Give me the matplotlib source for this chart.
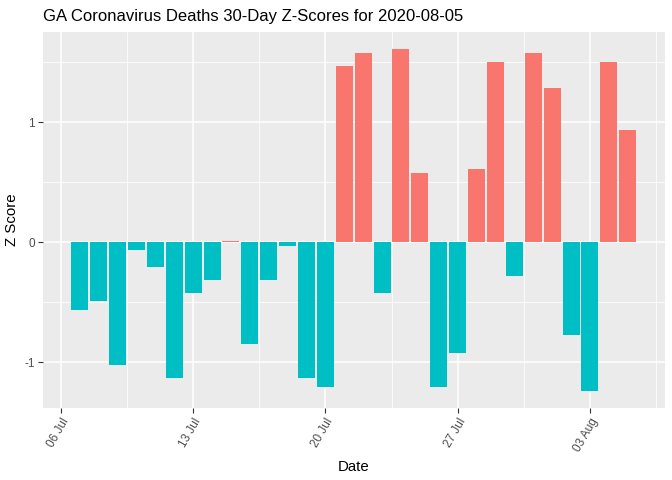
import matplotlib
matplotlib.use("Agg")
import matplotlib.pyplot as plt
import matplotlib.dates as mdates
import numpy as np
import datetime as dt

plt.rcParams['font.family'] = ['Liberation Sans', 'DejaVu Sans']

dates = [dt.date(2020, 7, 7) + dt.timedelta(days=i) for i in range(30)]
zscores = [-0.565, -0.49, -1.02, -0.066, -0.21, -1.13, -0.42, -0.316, 0.01, -0.848,
           -0.316, -0.033, -1.13, -1.205, 1.467, 1.575, -0.42, 1.608, 0.575, -1.205,
           -0.922, 0.608, 1.50, -0.283, 1.575, 1.283, -0.773, -1.238, 1.50, 0.933]
tick_dates = [dt.date(2020, 7, 6), dt.date(2020, 7, 13), dt.date(2020, 7, 20),
              dt.date(2020, 7, 27), dt.date(2020, 8, 3)]
tick_labels = ["06 Jul", "13 Jul", "20 Jul", "27 Jul", "03 Aug"]
title = "GA Coronavirus Deaths 30-Day Z-Scores for 2020-08-05"

pos_col = "#F8766D"
neg_col = "#00BFC4"

fig = plt.figure(figsize=(6.72, 4.8), dpi=100)
ax = fig.add_axes([43/672, 1-408/480, (664.5-43)/672, (408-32)/480])
ax.set_facecolor("#EBEBEB")

xnum = mdates.date2num(dates)
colors = [pos_col if v > 0 else neg_col for v in zscores]
ax.bar(xnum, zscores, width=0.9, color=colors, zorder=3)

tnum = mdates.date2num(tick_dates)
ax.set_xticks(tnum)
ax.set_xticklabels(tick_labels, rotation=60, ha='right', va='top', rotation_mode='anchor')
minor_x = list(tnum - 3.5) + [tnum[-1] + 3.5]
ax.set_xticks(minor_x, minor=True)
ax.set_yticks([-1, 0, 1])
ax.set_yticklabels(["-1", "0", "1"])
ax.set_yticks([-1.5, -0.5, 0.5, 1.5], minor=True)

# limits with 5% expansion (set after ticks)
xmin, xmax = xnum.min() - 0.45, xnum.max() + 0.45
xr = xmax - xmin
ax.set_xlim(xmin - 0.05*xr, xmax + 0.05*xr)
ymin, ymax = min(zscores), max(zscores)
yr = ymax - ymin
ax.set_ylim(ymin - 0.05*yr, ymax + 0.05*yr)

ax.grid(which='major', color='white', linewidth=1.1, zorder=0)
ax.grid(which='minor', color='white', linewidth=0.55, zorder=0)
ax.set_axisbelow(True)

for s in ax.spines.values():
    s.set_visible(False)

ax.tick_params(which='major', length=3.5, width=0.8, color='#333333',
               labelsize=8.5, labelcolor='#4D4D4D', pad=2.5)
ax.tick_params(which='minor', length=0)

ax.set_xlabel("Date", fontsize=10.8, color='black', labelpad=4)
ax.set_ylabel("Z Score", fontsize=10.8, color='black', va='center')
ax.yaxis.set_label_coords(-31/621.5, 0.5)
fig.text(43/672, 1-16/480, title, fontsize=12, color='black', ha='left', va='center')

fig.savefig("out.png", dpi=100)
